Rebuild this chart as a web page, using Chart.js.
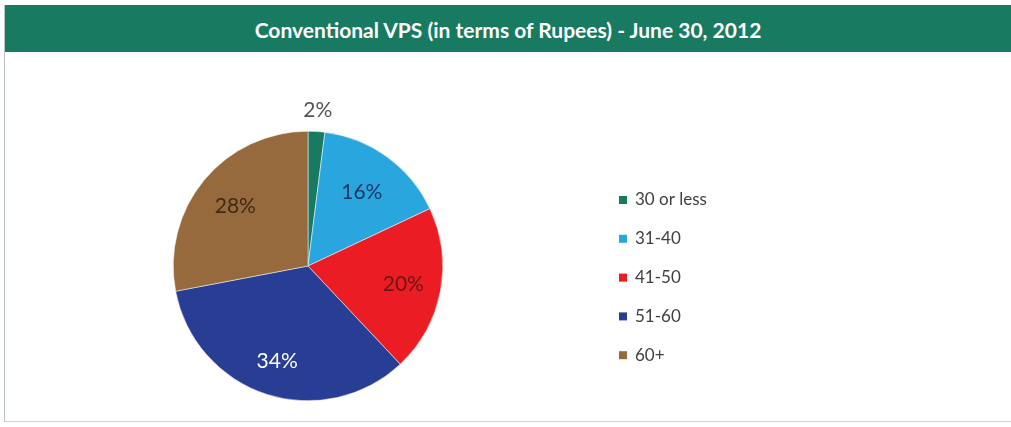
<!DOCTYPE html>
<html>
<head>
<meta charset="utf-8">
<script src="https://cdn.jsdelivr.net/npm/chart.js@4/dist/chart.umd.min.js"></script>
<style>
  body { margin: 0; background: #fff; width: 1011px; height: 427px; overflow: hidden; font-family: Lato, "Open Sans", sans-serif; }
  .box { position: absolute; left: 4px; top: 5px; width: 1007px; height: 416px; border-left: 1px solid #b9c4c1; border-bottom: 1px solid #c9d3d1; }
  .titleBar { position: absolute; left: 5px; top: 5px; width: 1006px; height: 47px; background: #187a60;
    color: #fff; font: bold 21px Lato, sans-serif; text-align: center; line-height: 50px; }
  #wrap { position: absolute; left: 5px; top: 52px; width: 1006px; height: 369px; }
</style>
</head>
<body>
<div class="box"></div>
<div class="titleBar">Conventional VPS (in terms of Rupees) - June 30, 2012</div>
<div id="wrap"><canvas id="pie"></canvas></div>
<script>
let ageGroups = ["30 or less", "31-40", "41-50", "51-60", "60+"];
let shares = [2, 16, 20, 34, 28];
let sliceColors = ["#187a60", "#2aa6df", "#ec1c24", "#283d94", "#976a3d"];
let labelColors = ["#555555", "#1b3a63", "#6e1414", "#ffffff", "#3e2a16"];
// how far out each % label sits, as part of the radius
let labelDist = [1.16, 0.68, 0.72, 0.74, 0.70];

let pieLabels = {
  id: 'pieLabels',
  afterDatasetsDraw(chart) {
    let ctx = chart.ctx;
    let arcs = chart.getDatasetMeta(0).data;
    ctx.save();
    ctx.font = '21px Lato, sans-serif';
    ctx.textAlign = 'center';
    ctx.textBaseline = 'middle';
    arcs.forEach((arc, i) => {
      let mid = (arc.startAngle + arc.endAngle) / 2;
      let d = arc.outerRadius * labelDist[i];
      ctx.fillStyle = labelColors[i];
      ctx.fillText(shares[i] + '%', arc.x + Math.cos(mid) * d, arc.y + Math.sin(mid) * d);
    });
    ctx.restore();
  }
};

let sideLegend = {
  id: 'sideLegend',
  afterDraw(chart) {
    let ctx = chart.ctx;
    ctx.save();
    ctx.font = '17px Lato, sans-serif';
    ctx.textBaseline = 'middle';
    for (let i = 0; i < ageGroups.length; i++) {
      let y = 148 + i * 38.8;
      ctx.fillStyle = sliceColors[i];
      ctx.fillRect(614, y - 4, 8, 8);
      ctx.fillStyle = '#404040';
      ctx.fillText(ageGroups[i], 630, y);
    }
    ctx.restore();
  }
};

new Chart("pie", {
  type: "pie",
  data: {
    labels: ageGroups,
    datasets: [{
      data: shares,
      backgroundColor: sliceColors,
      borderColor: "#ffffff",
      borderWidth: 0.5
    }]
  },
  options: {
    responsive: true,
    maintainAspectRatio: false,
    animation: false,
    layout: { padding: { left: 168, right: 568, top: 76, bottom: 17 } },
    plugins: {
      legend: { display: false },
      tooltip: { enabled: false }
    }
  },
  plugins: [pieLabels, sideLegend]
});
</script>
</body>
</html>
